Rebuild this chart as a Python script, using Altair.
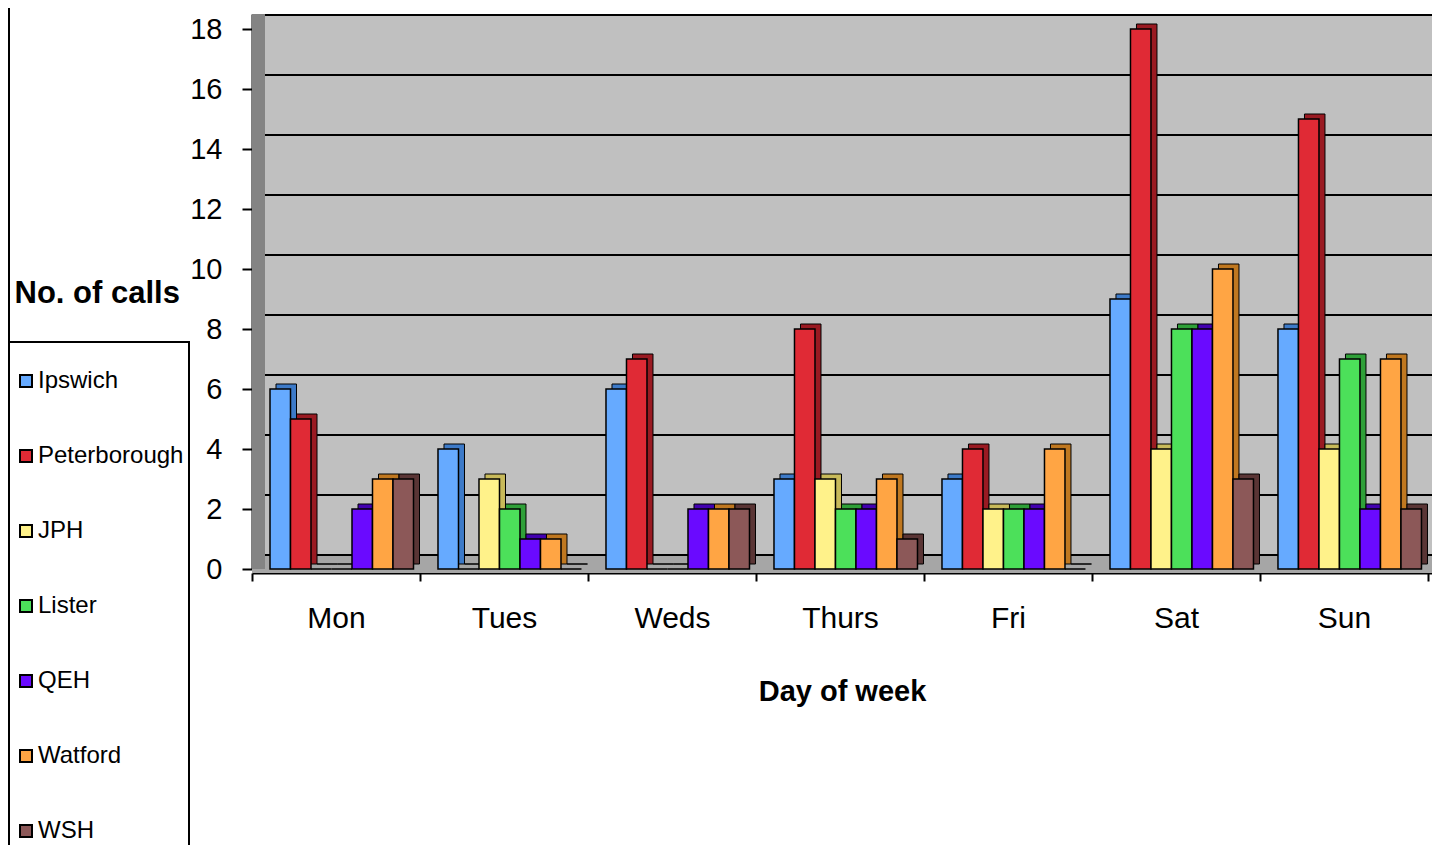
import altair as alt
import pandas as pd

days = ["Mon", "Tues", "Weds", "Thurs", "Fri", "Sat", "Sun"]
hospitals = ["Ipswich", "Peterborough", "JPH", "Lister", "QEH", "Watford", "WSH"]
ipswich = [6, 4, 6, 3, 3, 9, 8]
peterborough = [5, 0, 7, 8, 4, 18, 15]
jph = [0, 3, 0, 3, 2, 4, 4]
lister = [0, 2, 0, 2, 2, 8, 7]
qeh = [2, 1, 2, 2, 2, 8, 2]
watford = [3, 1, 2, 3, 4, 10, 7]
wsh = [3, 0, 2, 1, 0, 3, 2]
front_colors = ["#66AAFF", "#E02A35", "#FFF28A", "#4CE05A", "#6A0AFF", "#FFA544", "#8C5858"]
side_colors = ["#3D7AC8", "#9A1A22", "#C8BA5A", "#2FA038", "#4200B0", "#C07820", "#5A3535"]
y_ticks = [0, 2, 4, 6, 8, 10, 12, 14, 16, 18]

series = [ipswich, peterborough, jph, lister, qeh, watford, wsh]
rows = []
for h, vals, sc in zip(hospitals, series, side_colors):
    for d, v in zip(days, vals):
        rows.append({"day": d, "hospital": h, "calls": v, "side": sc})
df = pd.DataFrame(rows)
grid_df = pd.DataFrame({"v": y_ticks})
one = pd.DataFrame({"v": [0]})

W, H = 1180, 555
FONT = "Liberation Sans"

yscale = alt.Scale(domain=[0, 18.5], nice=False, zero=True)
xscale = alt.Scale(paddingInner=0, paddingOuter=0.012, align=0)

floor = alt.Chart(one).mark_rect(color="#A6A6A6", yOffset=-14, y2Offset=4).encode(
    x=alt.value(0), x2=alt.value(W),
    y=alt.datum(0, scale=yscale), y2=alt.datum(0))

wall = alt.Chart(one).mark_rect(color="#848484").encode(
    x=alt.value(0), x2=alt.value(13),
    y=alt.datum(18.5), y2=alt.datum(0))

grid = alt.Chart(grid_df).mark_rule(color="black", strokeWidth=2, yOffset=-14).encode(
    x=alt.value(13), x2=alt.value(W),
    y=alt.Y("v:Q", scale=yscale))

side = alt.Chart(df).mark_bar(yOffset=-5, y2Offset=-5,
                              stroke="black", strokeWidth=1).encode(
    x=alt.X("day:N", sort=days, scale=xscale),
    xOffset=alt.XOffset("hospital:N", sort=hospitals,
                        scale=alt.Scale(range=[24, 167.5], paddingInner=0, paddingOuter=0)),
    y=alt.Y("calls:Q", scale=yscale),
    fill=alt.Fill("side:N", scale=None, legend=None))

front = alt.Chart(df).mark_bar(stroke="black", strokeWidth=1.5).encode(
    x=alt.X("day:N", sort=days, scale=xscale,
            axis=alt.Axis(title="Day of week", labelAngle=0, labelAlign="center",
                          tickBand="extent",
                          labelFont=FONT, labelFontSize=30, labelColor="black",
                          titleFont=FONT, titleFontSize=29, titleFontWeight="bold",
                          titleColor="black", titlePadding=44,
                          domainColor="black", domainWidth=2,
                          tickColor="black", tickWidth=2, tickSize=8,
                          labelPadding=37, offset=4)),
    xOffset=alt.XOffset("hospital:N", sort=hospitals,
                        scale=alt.Scale(range=[18, 161.5], paddingInner=0, paddingOuter=0)),
    y=alt.Y("calls:Q", scale=yscale,
            axis=alt.Axis(title="No. of calls", values=y_ticks, grid=False,
                          labelFont=FONT, labelFontSize=29, labelColor="black",
                          labelPadding=20,
                          titleFont=FONT, titleFontSize=31, titleFontWeight="bold",
                          titleColor="black", titleAngle=0, titleAlign="left",
                          titleBaseline="middle", titleX=-238, titleY=279,
                          domainColor="black", domainWidth=2,
                          tickColor="black", tickWidth=2, tickSize=10)),
    fill=alt.Fill("hospital:N", sort=hospitals,
                  scale=alt.Scale(domain=hospitals, range=front_colors),
                  legend=alt.Legend(orient="none", legendX=-243, legendY=328,
                                    direction="vertical", title=" ",
                                    titleFontSize=12, titlePadding=10,
                                    padding=5, strokeColor="black",
                                    symbolType="square", symbolSize=144,
                                    symbolStrokeColor="black", symbolStrokeWidth=2,
                                    labelFont=FONT, labelFontSize=24,
                                    labelColor="black", labelOffset=0,
                                    rowPadding=51)))

outer = alt.Chart(one).mark_rule(color="black", strokeWidth=2).encode(
    x=alt.value(-243), y=alt.value(-14), y2=alt.value(328))

chart = alt.layer(floor, wall, grid, side, front, outer).resolve_scale(
    fill="independent", xOffset="independent"
).properties(
    width=W, height=H,
    padding={"left": 244, "top": 6, "right": 0, "bottom": 276},
    autosize=alt.AutoSizeParams(type="none"),
).configure_view(fill="#C0C0C0", strokeWidth=0).configure_legend(strokeWidth=2)

chart.save("out.html", embed_options={"renderer": "svg", "actions": False})
